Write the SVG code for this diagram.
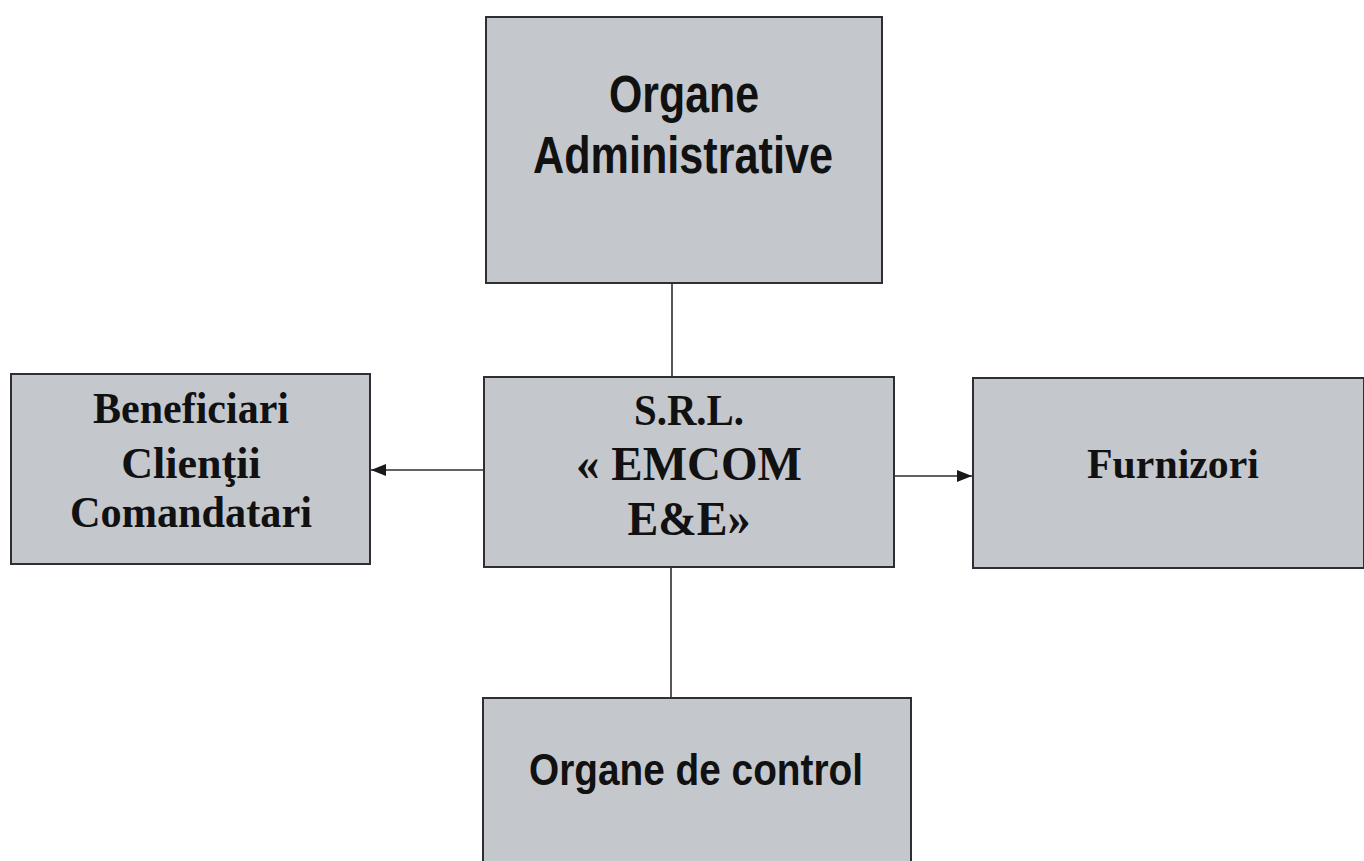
<svg xmlns="http://www.w3.org/2000/svg" width="1364" height="861" viewBox="0 0 1364 861">
<style>
.box{fill:#c4c8cd;stroke:#2e2e34;stroke-width:2}
.sans{font-family:"Liberation Sans",Arial,sans-serif;font-weight:bold;fill:#111;text-anchor:middle}
.serif{font-family:"Liberation Serif","Times New Roman",serif;font-weight:bold;fill:#111;text-anchor:middle}
.conn{stroke:#2e2e2e;stroke-width:1.6;fill:none}
</style>
<defs>
<marker id="arr" viewBox="0 0 15 12" refX="15" refY="6" markerWidth="15" markerHeight="12" markerUnits="userSpaceOnUse" orient="auto">
<path d="M0,0 L15,6 L0,12 Z" fill="#1a1a1a"/>
</marker>
</defs>
<rect width="1364" height="861" fill="#ffffff"/>
<g id="connectors">
<line class="conn" x1="672" y1="283" x2="672" y2="377"/>
<line class="conn" x1="671" y1="567" x2="671" y2="698"/>
<line class="conn" x1="484" y1="470" x2="371" y2="470" marker-end="url(#arr)"/>
<line class="conn" x1="894" y1="476" x2="972" y2="476" marker-end="url(#arr)"/>
</g>
<g id="node-admin">
<rect class="box" x="486" y="17" width="396" height="266"/>
<text class="sans" x="684" y="112" font-size="51" textLength="150" lengthAdjust="spacingAndGlyphs">Organe</text>
<text class="sans" x="683" y="173" font-size="51" textLength="300" lengthAdjust="spacingAndGlyphs">Administrative</text>
</g>
<g id="node-beneficiari">
<rect class="box" x="11" y="374" width="359" height="190"/>
<text class="serif" x="191" y="423" font-size="44" textLength="196" lengthAdjust="spacingAndGlyphs">Beneficiari</text>
<text class="serif" x="191" y="478" font-size="44">Clienţii</text>
<text class="serif" x="191" y="527" font-size="44" textLength="242" lengthAdjust="spacingAndGlyphs">Comandatari</text>
</g>
<g id="node-emcom">
<rect class="box" x="484" y="377" width="410" height="190"/>
<text class="serif" x="689" y="425" font-size="45" textLength="110" lengthAdjust="spacingAndGlyphs">S.R.L.</text>
<text class="serif" x="689" y="480" font-size="48" textLength="226" lengthAdjust="spacingAndGlyphs">« EMCOM</text>
<text class="serif" x="689" y="535" font-size="48" textLength="123" lengthAdjust="spacingAndGlyphs">E&amp;E»</text>
</g>
<g id="node-furnizori">
<rect class="box" x="973" y="378" width="391" height="190"/>
<text class="serif" x="1173" y="478" font-size="43" textLength="172" lengthAdjust="spacingAndGlyphs">Furnizori</text>
</g>
<g id="node-control">
<rect class="box" x="483" y="698" width="428" height="175"/>
<text class="sans" x="696" y="785" font-size="45" textLength="334" lengthAdjust="spacingAndGlyphs">Organe de control</text>
</g>
</svg>
